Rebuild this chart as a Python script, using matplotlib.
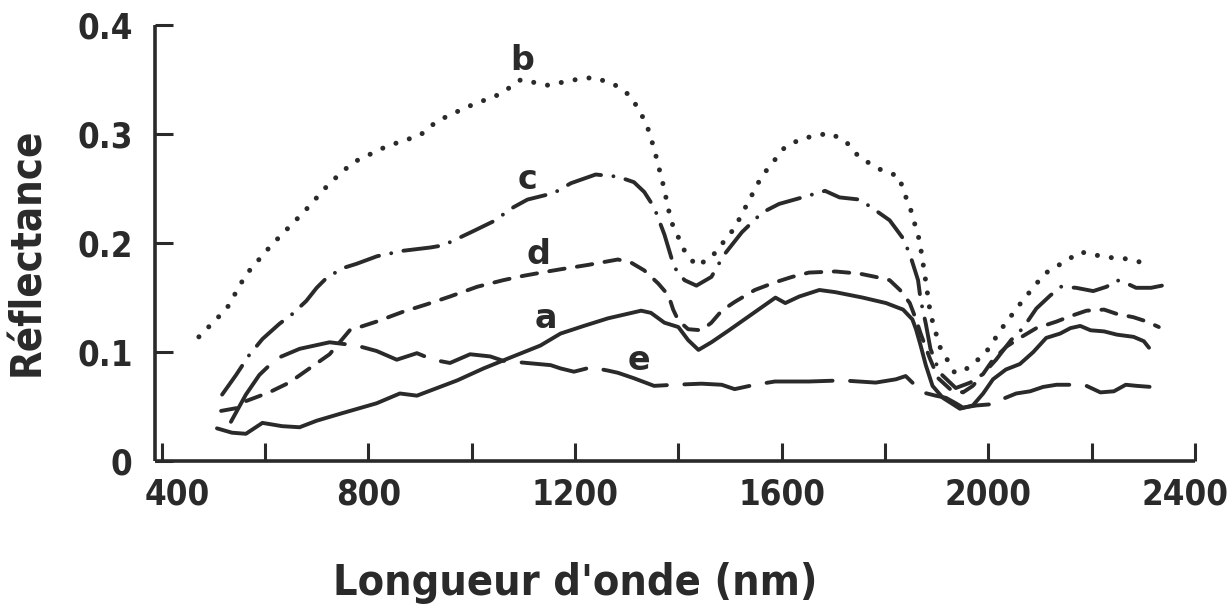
import numpy as np
import matplotlib
matplotlib.use("Agg")
import matplotlib.pyplot as plt
import matplotlib.transforms as mtrans

# spectres de réflectance (nm, réflectance)
wl_a = [507, 536, 563, 595, 633, 667, 700, 750, 816, 861, 894, 933, 972, 1023, 1075, 1133,
        1172, 1217, 1264, 1328, 1347, 1373, 1400, 1419, 1439, 1464, 1498, 1537, 1576, 1588,
        1607, 1634, 1673, 1704, 1757, 1802, 1835, 1853, 1860, 1869, 1879, 1892, 1912, 1945,
        1970, 1990, 2009, 2034, 2061, 2087, 2112, 2139, 2159, 2178, 2198, 2224, 2249, 2281,
        2301, 2311]
r_a = [0.030, 0.026, 0.025, 0.035, 0.032, 0.031, 0.037, 0.044, 0.053, 0.062, 0.060, 0.067,
       0.074, 0.085, 0.095, 0.106, 0.117, 0.124, 0.131, 0.138, 0.136, 0.127, 0.123, 0.111,
       0.102, 0.109, 0.120, 0.133, 0.146, 0.150, 0.145, 0.151, 0.157, 0.155, 0.150, 0.145,
       0.139, 0.130, 0.121, 0.106, 0.088, 0.069, 0.058, 0.048, 0.051, 0.062, 0.075, 0.084,
       0.089, 0.100, 0.113, 0.117, 0.122, 0.124, 0.120, 0.119, 0.116, 0.114, 0.110, 0.104]

wl_b = [472, 526, 563, 612, 676, 725, 770, 836, 900, 933, 991, 1056, 1095, 1147, 1211, 1237,
        1275, 1308, 1338, 1353, 1371, 1386, 1412, 1435, 1464, 1509, 1561, 1606, 1639, 1692,
        1723, 1750, 1789, 1828, 1834, 1849, 1867, 1877, 1888, 1906, 1935, 1956, 1993, 2028,
        2066, 2109, 2158, 2178, 2229, 2262, 2310]
r_b = [0.114, 0.140, 0.171, 0.198, 0.229, 0.255, 0.274, 0.289, 0.299, 0.312, 0.325, 0.337,
       0.350, 0.345, 0.351, 0.352, 0.346, 0.335, 0.310, 0.287, 0.253, 0.220, 0.193, 0.179,
       0.187, 0.214, 0.261, 0.288, 0.296, 0.301, 0.294, 0.279, 0.268, 0.261, 0.250, 0.232,
       0.202, 0.171, 0.135, 0.105, 0.081, 0.084, 0.098, 0.123, 0.147, 0.172, 0.186, 0.192,
       0.187, 0.186, 0.181]

wl_c = [517, 544, 569, 595, 628, 653, 680, 700, 719, 750, 777, 817, 867, 920, 945, 972, 1003,
        1042, 1081, 1108, 1159, 1192, 1240, 1283, 1314, 1334, 1353, 1373, 1392, 1412, 1435,
        1464, 1488, 1523, 1562, 1595, 1640, 1684, 1712, 1751, 1776, 1809, 1834, 1848, 1864,
        1869, 1879, 1888, 1906, 1937, 1965, 1990, 2015, 2044, 2067, 2093, 2120, 2141, 2170,
        2203, 2229, 2249, 2268, 2286, 2315, 2336]
r_c = [0.061, 0.079, 0.097, 0.112, 0.126, 0.135, 0.147, 0.159, 0.168, 0.177, 0.181, 0.188,
       0.193, 0.196, 0.198, 0.204, 0.211, 0.220, 0.233, 0.240, 0.246, 0.255, 0.263, 0.261,
       0.256, 0.247, 0.233, 0.208, 0.178, 0.166, 0.161, 0.169, 0.189, 0.210, 0.228, 0.236,
       0.242, 0.248, 0.242, 0.240, 0.232, 0.221, 0.205, 0.190, 0.166, 0.148, 0.126, 0.103,
       0.081, 0.067, 0.072, 0.080, 0.093, 0.111, 0.122, 0.140, 0.152, 0.160, 0.159, 0.156,
       0.160, 0.166, 0.163, 0.159, 0.159, 0.161]

wl_d = [515, 550, 563, 608, 647, 686, 725, 764, 816, 867, 914, 958, 1011, 1061, 1100, 1147,
        1172, 1225, 1283, 1309, 1334, 1361, 1381, 1390, 1400, 1419, 1445, 1464, 1484, 1509,
        1548, 1587, 1620, 1653, 1704, 1751, 1782, 1809, 1829, 1848, 1860, 1869, 1887, 1903,
        1926, 1951, 1970, 1990, 2009, 2035, 2061, 2093, 2132, 2159, 2190, 2224, 2249, 2281,
        2307, 2330]
r_d = [0.046, 0.049, 0.055, 0.063, 0.072, 0.085, 0.098, 0.120, 0.128, 0.137, 0.144, 0.151,
       0.160, 0.166, 0.170, 0.174, 0.176, 0.180, 0.185, 0.182, 0.175, 0.163, 0.152, 0.139,
       0.129, 0.121, 0.120, 0.127, 0.138, 0.146, 0.157, 0.164, 0.169, 0.173, 0.174, 0.172,
       0.169, 0.166, 0.157, 0.145, 0.130, 0.117, 0.094, 0.076, 0.066, 0.063, 0.069, 0.080,
       0.093, 0.105, 0.113, 0.122, 0.128, 0.133, 0.138, 0.139, 0.135, 0.132, 0.128, 0.123]

wl_e = [534, 563, 589, 622, 667, 725, 777, 816, 855, 894, 925, 958, 997, 1036, 1061, 1153,
        1172, 1198, 1231, 1264, 1283, 1314, 1353, 1392, 1445, 1484, 1509, 1548, 1587, 1614,
        1653, 1717, 1782, 1821, 1840, 1853, 1873, 1898, 1918, 1937, 1951, 1977, 2003, 2028,
        2054, 2081, 2106, 2132, 2159, 2190, 2217, 2243, 2266, 2287, 2315, 2334]
r_e = [0.036, 0.061, 0.079, 0.094, 0.103, 0.109, 0.106, 0.101, 0.093, 0.099, 0.093, 0.090,
       0.098, 0.096, 0.092, 0.088, 0.085, 0.082, 0.086, 0.083, 0.081, 0.076, 0.069, 0.070,
       0.071, 0.070, 0.066, 0.070, 0.073, 0.073, 0.073, 0.074, 0.072, 0.075, 0.078, 0.072,
       0.063, 0.060, 0.058, 0.053, 0.049, 0.051, 0.052, 0.057, 0.062, 0.064, 0.068, 0.070,
       0.070, 0.069, 0.063, 0.064, 0.070, 0.069, 0.068, 0.068]

# position des lettres a..e
lab_names = ["a", "b", "c", "d", "e"]
lab_x = [1143, 1098, 1108, 1130, 1324]
lab_y = [0.131, 0.368, 0.258, 0.190, 0.092]

fam = ["DejaVu Sans"]
ink = "#2a2a2a"

fig = plt.figure(figsize=(12.27, 6.12), dpi=100)
ax = fig.add_axes([0.1263, 0.2467, 0.8476, 0.712])

lw = 2.8
ax.plot(wl_a, r_a, color=ink, lw=lw, solid_capstyle="round", solid_joinstyle="round")
ax.plot(wl_b, r_b, color=ink, lw=3.6, linestyle=(0, (0.01, 2.8)), dash_capstyle="round")
ax.plot(wl_c, r_c, color=ink, lw=lw, linestyle=(0, (9, 3.2, 0.01, 3.2)), dash_capstyle="round")
ax.plot(wl_d, r_d, color=ink, lw=lw, linestyle=(0, (4, 3.2)), dash_capstyle="round")
ax.plot(wl_e, r_e, color=ink, lw=lw, linestyle=(0, (17, 4.5)), dash_capstyle="round")

for n, x, y in zip(lab_names, lab_x, lab_y):
    ax.text(x, y, n, ha="center", va="center", fontsize=24, fontweight="bold",
            family=["DejaVu Sans"], color=ink)

ax.set_xlim(387, 2400)
ax.set_ylim(0, 0.4)
ax.set_xticks(np.arange(400, 2401, 200))
ax.set_xticklabels([str(v) if v % 400 == 0 else "" for v in range(400, 2401, 200)])
ax.set_yticks([0, 0.1, 0.2, 0.3, 0.4])
ax.set_yticklabels(["0", "0.1", "0.2", "0.3", "0.4"])

for s in ["top", "right"]:
    ax.spines[s].set_visible(False)
for s in ["left", "bottom"]:
    ax.spines[s].set_linewidth(2.6)
    ax.spines[s].set_color(ink)
    ax.spines[s].set_capstyle("butt")

ax.tick_params(axis="both", direction="in", length=13, width=2.2, color=ink,
               labelcolor=ink)
ax.tick_params(axis="x", pad=12)
ax.tick_params(axis="y", pad=16)
for t in ax.get_xticklabels() + ax.get_yticklabels():
    t.set_family(fam)
    t.set_fontstretch("condensed")
    t.set_fontweight("bold")
    t.set_fontsize(25)

# premier et dernier libellé x décalés comme sur l'original
xl = ax.get_xticklabels()
xl[0].set_transform(xl[0].get_transform() + mtrans.ScaledTranslation(0.16, 0, fig.dpi_scale_trans))
xl[-1].set_transform(xl[-1].get_transform() + mtrans.ScaledTranslation(-0.1, 0, fig.dpi_scale_trans))

ax.set_xlabel("Longueur d'onde (nm)", fontsize=31, fontweight="bold", family=fam,
              fontstretch="condensed", color=ink)
ax.xaxis.set_label_coords(0.404, -0.232)
ax.set_ylabel("Réflectance", fontsize=30, fontweight="bold", family=fam,
              fontstretch="condensed", color=ink)
ax.yaxis.set_label_coords(-0.103, 0.479)

fig.savefig("out.png", dpi=100, facecolor="white")
